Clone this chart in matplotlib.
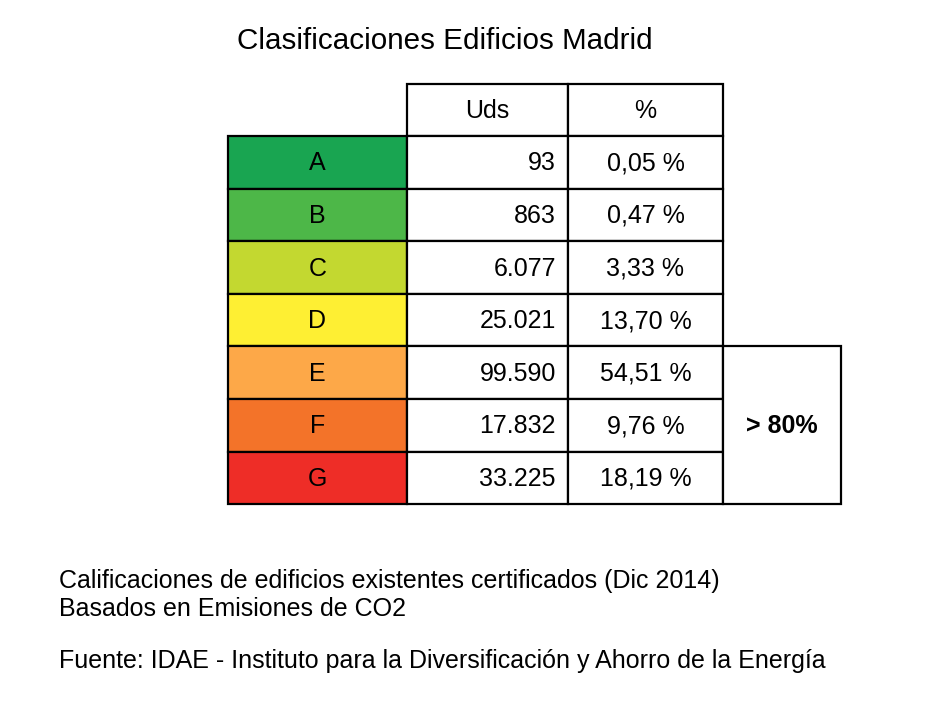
import matplotlib.pyplot as plt
from matplotlib.patches import Rectangle

# data
clases = ['A', 'B', 'C', 'D', 'E', 'F', 'G']
uds = ['93', '863', '6.077', '25.021', '99.590', '17.832', '33.225']
pct = ['0,05 %', '0,47 %', '3,33 %', '13,70 %', '54,51 %', '9,76 %', '18,19 %']
colores = ['#19a551', '#4db748', '#c3d830', '#feef33', '#fda848', '#f37329', '#ee2d27']
cabecera = ['Uds', '%']
nota = '> 80%'

titulo = 'Clasificaciones Edificios Madrid'
pie = ['Calificaciones de edificios existentes certificados (Dic 2014)',
       'Basados en Emisiones de CO2',
       'Fuente: IDAE - Instituto para la Diversificación y Ahorro de la Energía']

plt.rcParams['font.family'] = ['Liberation Sans', 'DejaVu Sans']

fig = plt.figure(figsize=(9.34, 7.04), dpi=100)
ax = fig.add_axes([0, 0, 1, 1])
ax.set_xlim(0, 934)
ax.set_ylim(704, 0)
ax.axis('off')

# column edges and row heights (pixels)
xs = [228, 407, 568, 723, 841]
y0 = 84
h_head = 52
h_row = 52.6
lw = 1.6
fs = 18

# header
for j, txt in enumerate(cabecera):
    ax.add_patch(Rectangle((xs[j + 1], y0), xs[j + 2] - xs[j + 1], h_head,
                           facecolor='white', edgecolor='black', lw=lw))
    ax.text((xs[j + 1] + xs[j + 2]) / 2, y0 + h_head / 2 + 1, txt,
            ha='center', va='center', fontsize=fs)

# rows
for i, c in enumerate(clases):
    top = y0 + h_head + i * h_row
    mid = top + h_row / 2 + 1
    ax.add_patch(Rectangle((xs[0], top), xs[1] - xs[0], h_row,
                           facecolor=colores[i], edgecolor='black', lw=lw))
    ax.add_patch(Rectangle((xs[1], top), xs[2] - xs[1], h_row,
                           facecolor='white', edgecolor='black', lw=lw))
    ax.add_patch(Rectangle((xs[2], top), xs[3] - xs[2], h_row,
                           facecolor='white', edgecolor='black', lw=lw))
    ax.text((xs[0] + xs[1]) / 2, mid, c, ha='center', va='center', fontsize=fs)
    ax.text(xs[2] - 12, mid, uds[i], ha='right', va='center', fontsize=fs)
    ax.text((xs[2] + xs[3]) / 2, mid, pct[i], ha='center', va='center', fontsize=fs)

# merged cell for E-G
top = y0 + h_head + 4 * h_row
ax.add_patch(Rectangle((xs[3], top), xs[4] - xs[3], 3 * h_row,
                       facecolor='white', edgecolor='black', lw=lw))
ax.text((xs[3] + xs[4]) / 2, top + 1.5 * h_row + 1, nota, ha='center', va='center',
        fontsize=fs, fontweight='bold')

ax.text(445, 41, titulo, ha='center', va='center', fontsize=21.3)
ax.text(59, 581, pie[0], ha='left', va='center', fontsize=18)
ax.text(59, 609, pie[1], ha='left', va='center', fontsize=18)
ax.text(59, 661, pie[2], ha='left', va='center', fontsize=18)

fig.savefig('out.png', dpi=100, facecolor='white')
